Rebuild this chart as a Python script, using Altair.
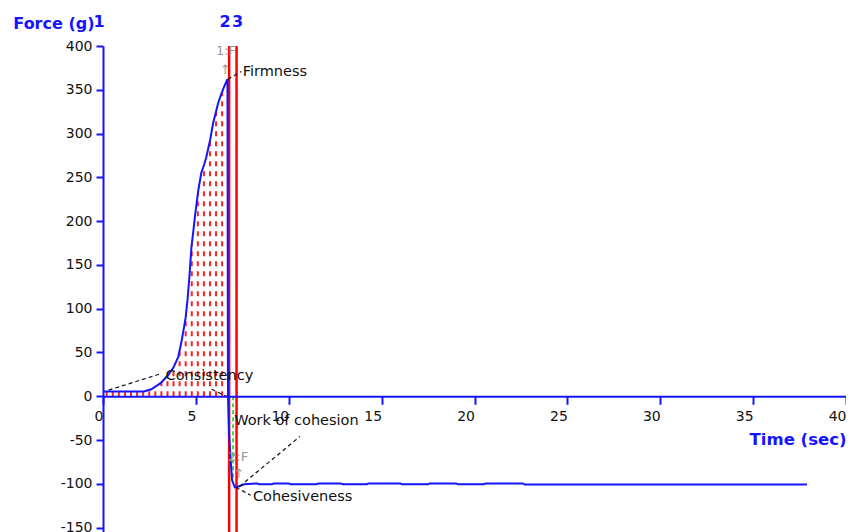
import altair as alt
import pandas as pd

# ---- curve (Time in sec, Force in g) ----
time = [0.0, 2.2, 2.6, 3.1, 3.5, 3.8, 4.05, 4.24, 4.33, 4.45, 4.55, 4.65, 4.76, 4.87,
        4.97, 5.13, 5.29, 5.45, 5.56, 5.77, 5.93, 6.05, 6.2, 6.38, 6.55, 6.70,
        6.71, 6.72, 6.73, 6.78, 6.85, 6.95, 7.10, 7.30, 7.60,
        8.3, 8.4, 9.1, 9.2, 10.0, 10.1, 11.5, 11.6, 12.8, 12.9, 14.2, 14.3,
        16.0, 16.1, 17.5, 17.6, 19.0, 19.1, 20.5, 20.6, 22.6, 22.7, 37.9]
force = [5.5, 5.5, 8, 15, 24, 33, 45, 64, 75, 90, 110, 136, 170, 190,
         209, 235, 255, 265, 273, 293, 312, 322, 335, 346, 355, 362,
         235, 80, 0, -40, -65, -96, -104, -103, -100.5,
         -99.5, -100.5, -100.5, -99.5, -99.5, -100.5, -100.5, -99.5, -99.5, -100.5, -100.5, -99.5,
         -99.5, -100.5, -100.5, -99.5, -99.5, -100.5, -100.5, -99.5, -99.5, -100.8, -100.8]
PEAK_T = 6.70

# markers
marker_t = [0.0, 6.79, 7.19]
marker_lbl = ["1", "2", "3"]

# annotations
ann_text = ["Firmness", "Consistency", "Work of cohesion", "Cohesiveness"]
ann_t = [7.52, 3.37, 7.06, 8.07]
ann_f = [370, 23, -28, -115]

# grey peak markers
pk_text = ["1:F", "↑", "2:F", "↑"]
pk_t = [6.62, 6.58, 7.27, 7.31]
pk_f = [394, 373, -69, -89]

# dashed leader lines (segment id, t, f)
lead_seg = [1, 1, 2, 2, 3, 3, 4, 4, 5, 5]
lead_t = [6.72, 7.45, 0.3, 3.15, 5.85, 6.65, 7.35, 10.6, 7.15, 7.95]
lead_f = [362, 371, 7, 26, 8, 0, -103, -46, -104, -113]

# green dashed line
green_t = [7.0, 7.0]
green_f = [0, -93]

x_ticks = list(range(0, 41, 5))
y_ticks = list(range(-150, 401, 50))

W, H = 743, 486
Y_MIN, Y_MAX = -155, 400
y0_px = H * (Y_MAX - 0) / (Y_MAX - Y_MIN)

BLUE = "#1414ff"
FONT = "DejaVu Sans"

curve = pd.DataFrame({"t": time, "f": force, "i": range(len(time))})
rise = curve[curve["t"] <= PEAK_T][["t", "f"]]
markers = pd.DataFrame({"t": marker_t, "lbl": marker_lbl})
ann = pd.DataFrame({"t": ann_t, "f": ann_f, "txt": ann_text})
pk = pd.DataFrame({"t": pk_t, "f": pk_f, "txt": pk_text})
lead = pd.DataFrame({"seg": lead_seg, "t": lead_t, "f": lead_f})
green = pd.DataFrame({"t": green_t, "f": green_f})

xs = alt.Scale(domain=[0, 40], nice=False, zero=False)
ys = alt.Scale(domain=[Y_MIN, Y_MAX], nice=False, zero=False)

x_axis = alt.Axis(values=x_ticks, grid=False, offset=y0_px - H, domainColor=BLUE, domainWidth=2,
                  tickColor=BLUE, tickWidth=2, tickSize=8, labelAlign="right", labelBaseline="top",
                  labelPadding=5, labelFont=FONT, labelFontSize=14, labelColor="#111111",
                  labelFlush=False, labelOverlap=False, zindex=1, labelExpr="'' + datum.value",
                  title="Time (sec)", titleX=W, titleY=48, titleAlign="right",
                  titleBaseline="alphabetic", titleFont=FONT, titleFontSize=16.5,
                  titleFontWeight="bold", titleColor=BLUE)
y_axis = alt.Axis(values=y_ticks, grid=False, domainColor=BLUE, domainWidth=2,
                  tickColor=BLUE, tickWidth=2, tickSize=7, labelPadding=4,
                  labelFont=FONT, labelFontSize=14, labelColor="#111111",
                  labelFlush=False, labelOverlap=False, zindex=1, labelExpr="'' + datum.value",
                  title="Force (g)", titleAngle=0, titleX=-9, titleY=-18, titleAlign="right",
                  titleBaseline="alphabetic", titleFont=FONT, titleFontSize=16,
                  titleFontWeight="bold", titleColor=BLUE)

X = alt.X("t:Q", scale=xs, axis=x_axis)
Y = alt.Y("f:Q", scale=ys, axis=y_axis)

hatch = alt.Chart(alt.sequence(0.2, PEAK_T, 0.327, as_="t")).mark_rule(
    color="#ff2020", strokeWidth=2, strokeDash=[5, 5]
).encode(x=alt.X("t:Q", scale=xs), y=alt.datum(0), y2=alt.datum(Y_MAX))

# white mask above the rising curve hides the hatch lines there
mask = alt.Chart(rise).mark_area(color="white", opacity=1, orient="vertical").encode(
    x=alt.X("t:Q", scale=xs), y=alt.Y("f:Q", scale=ys, stack=None), y2=alt.datum(Y_MAX + 5))

red_lines = alt.Chart(markers).transform_filter("datum.t > 0").mark_rule(
    color="#ff0000", strokeWidth=2.5).encode(x=alt.X("t:Q", scale=xs), y=alt.datum(Y_MAX), y2=alt.value(H))

green_line = alt.Chart(green).mark_line(color="#00d000", strokeWidth=1.5, strokeDash=[4, 3]).encode(
    x=alt.X("t:Q", scale=xs), y=alt.Y("f:Q", scale=ys))

line = alt.Chart(curve).mark_line(color=BLUE, strokeWidth=2, interpolate="linear").encode(
    x=X, y=Y, order="i:Q")

leaders = alt.Chart(lead).mark_line(color="#111111", strokeWidth=1.2, strokeDash=[4, 3]).encode(
    x=alt.X("t:Q", scale=xs), y=alt.Y("f:Q", scale=ys), detail="seg:N")

ann_txt = alt.Chart(ann).mark_text(align="left", baseline="middle", font=FONT, fontSize=14.5,
                                   color="#111111").encode(
    x=alt.X("t:Q", scale=xs), y=alt.Y("f:Q", scale=ys), text="txt:N")

pk_txt = alt.Chart(pk).mark_text(align="center", baseline="middle", font=FONT, fontSize=13,
                                 color="#999999").encode(
    x=alt.X("t:Q", scale=xs), y=alt.Y("f:Q", scale=ys), text="txt:N")

mk_left = alt.Chart(markers).transform_filter("datum.lbl != '3'").mark_text(
    align="center", baseline="middle", font=FONT, fontSize=16, fontWeight="bold", color=BLUE, dx=-4
).encode(x=alt.X("t:Q", scale=xs), y=alt.value(-24), text="lbl:N")
mk_right = alt.Chart(markers).transform_filter("datum.lbl == '3'").mark_text(
    align="center", baseline="middle", font=FONT, fontSize=16, fontWeight="bold", color=BLUE, dx=1
).encode(x=alt.X("t:Q", scale=xs), y=alt.value(-24), text="lbl:N")

chart = alt.layer(hatch, mask, red_lines, green_line, line, leaders, ann_txt, pk_txt,
                  mk_left, mk_right
                  ).properties(
    width=W, height=H,
    background="white",
    autosize=alt.AutoSizeParams(type="none"),
    padding={"left": 95, "top": 38, "right": 0, "bottom": 0},
).configure_view(strokeWidth=0, stroke="transparent")

chart.save("out.html", embed_options={"renderer": "svg", "actions": False})
